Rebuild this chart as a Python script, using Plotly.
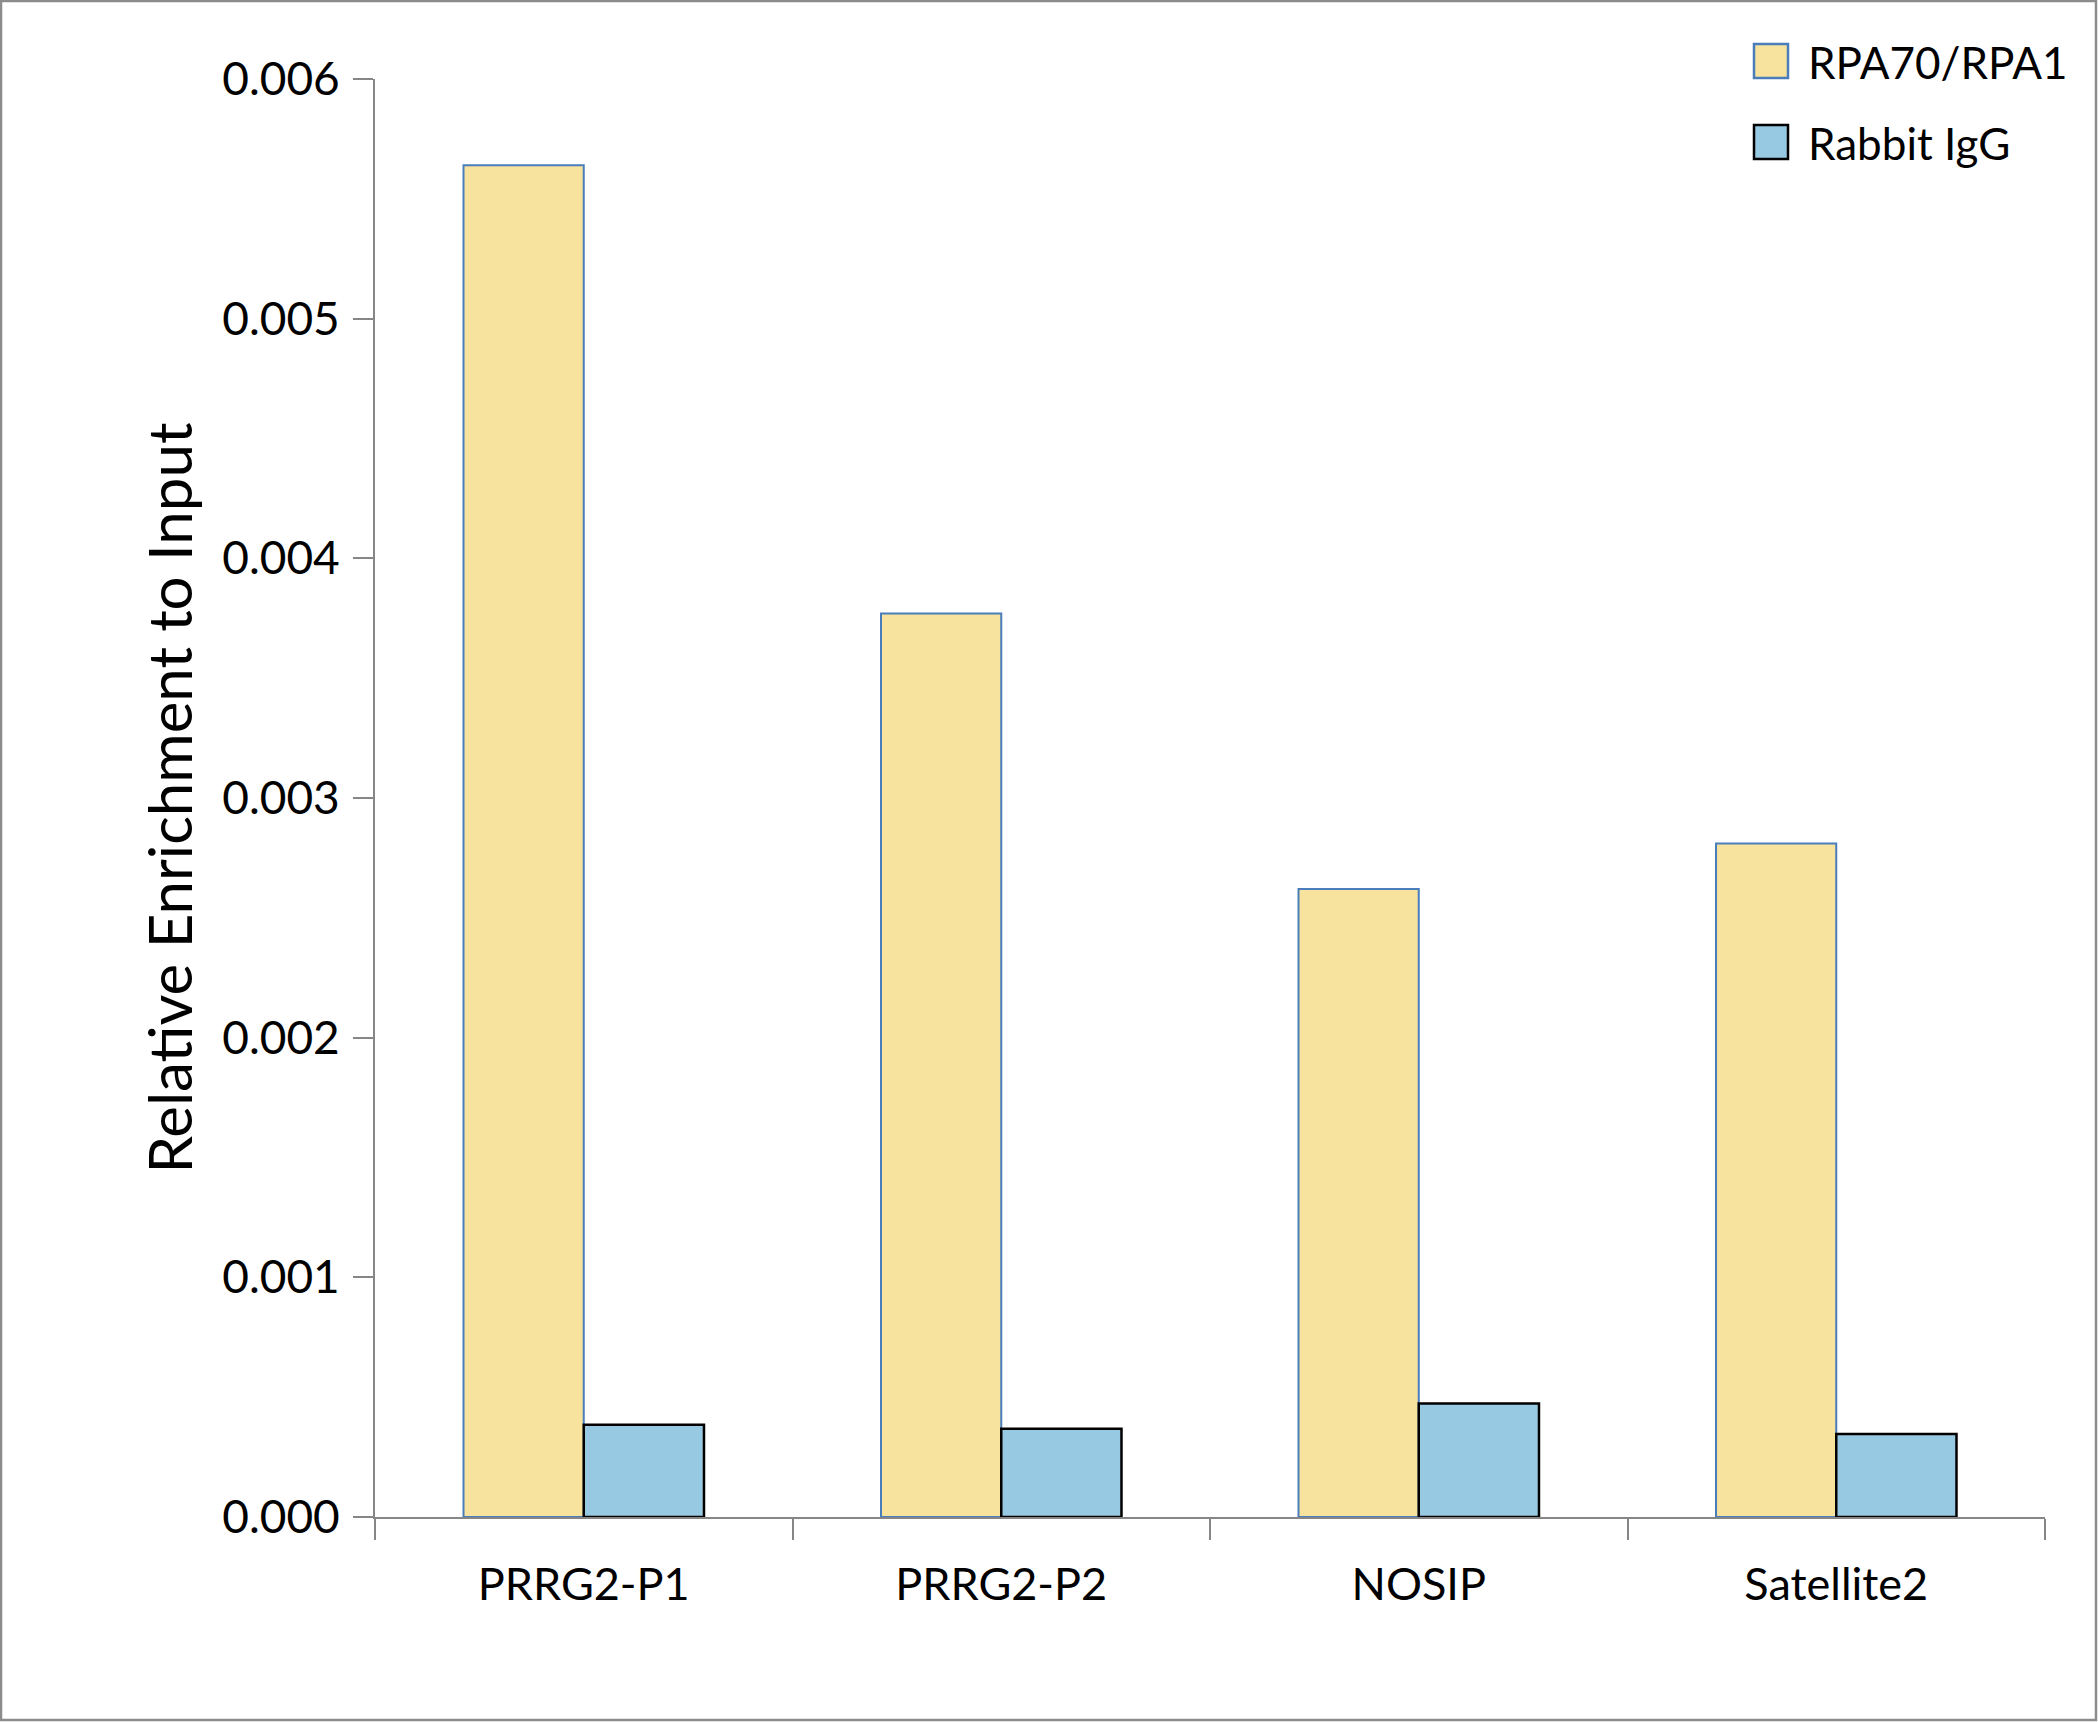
import plotly.graph_objects as go

categories = ["PRRG2-P1", "PRRG2-P2", "NOSIP", "Satellite2"]
rpa_values = [0.00564, 0.00377, 0.00262, 0.00281]
igg_values = [0.000385, 0.000368, 0.000474, 0.000346]
series_names = ["RPA70/RPA1", "Rabbit IgG"]
y_ticks = [0.000, 0.001, 0.002, 0.003, 0.004, 0.005, 0.006]
y_title = "Relative Enrichment to Input"

W, H = 2098, 1722
ml, mr, mt, mb = 375, 53, 79, 205
pw, ph = W - ml - mr, H - mt - mb
FONT = "Lato, 'Open Sans', sans-serif"

fills = ["#F7E29E", "#98C9E2"]
edges = ["#4A7EBB", "#000000"]
edge_w = [2, 2.5]

fig = go.Figure()
for name, vals, fc, ec, ew in zip(series_names, [rpa_values, igg_values], fills, edges, edge_w):
    fig.add_trace(go.Bar(
        x=categories, y=vals, name=name, showlegend=False,
        marker=dict(color=fc, line=dict(color=ec, width=ew)),
    ))

def px_x(p):
    return (p - ml) / pw

def px_y(p):
    return (H - mb - p) / ph

# outer frame
fig.add_shape(type="rect", xref="paper", yref="paper",
              x0=px_x(1), x1=px_x(W - 2), y0=px_y(H - 2), y1=px_y(1),
              line=dict(color="#8C8C8C", width=2.5), fillcolor="rgba(0,0,0,0)", layer="below")

# custom legend (large swatches like the original)
leg_top = [44, 125]
for i, name in enumerate(series_names):
    y0 = leg_top[i]
    fig.add_shape(type="rect", xref="paper", yref="paper",
                  x0=px_x(1754), x1=px_x(1788), y0=px_y(y0 + 34), y1=px_y(y0),
                  line=dict(color=edges[i], width=2.5), fillcolor=fills[i])
    fig.add_annotation(xref="paper", yref="paper", x=px_x(1806), y=px_y(y0 + 18),
                       xanchor="left", yanchor="middle", showarrow=False,
                       text=name, font=dict(size=44, family=FONT, color="#000000"))

fig.update_layout(
    width=W, height=H,
    margin=dict(l=ml, r=mr, t=mt, b=mb, pad=0),
    paper_bgcolor="white", plot_bgcolor="white",
    barmode="group", bargap=0.424, bargroupgap=0,
    font=dict(family=FONT, size=45, color="#000000"),
    showlegend=False,
    xaxis=dict(
        type="category", range=[-0.5, 3.5],
        showline=True, linecolor="#868686", linewidth=2,
        ticks="outside", ticklen=21, tickwidth=2, tickcolor="#868686",
        tickson="boundaries", showgrid=False, zeroline=False,
        tickfont=dict(size=45, family=FONT), ticklabelstandoff=27,
    ),
    yaxis=dict(
        range=[0, 0.006], tickvals=y_ticks, tickformat=".3f",
        showline=True, linecolor="#868686", linewidth=2,
        ticks="outside", ticklen=20, tickwidth=2, tickcolor="#868686",
        showgrid=False, zeroline=False,
        tickfont=dict(size=46, family=FONT), ticklabelstandoff=4,
        title=dict(text=y_title, font=dict(size=60, family=FONT), standoff=10),
    ),
)

fig.write_html("out.html")
